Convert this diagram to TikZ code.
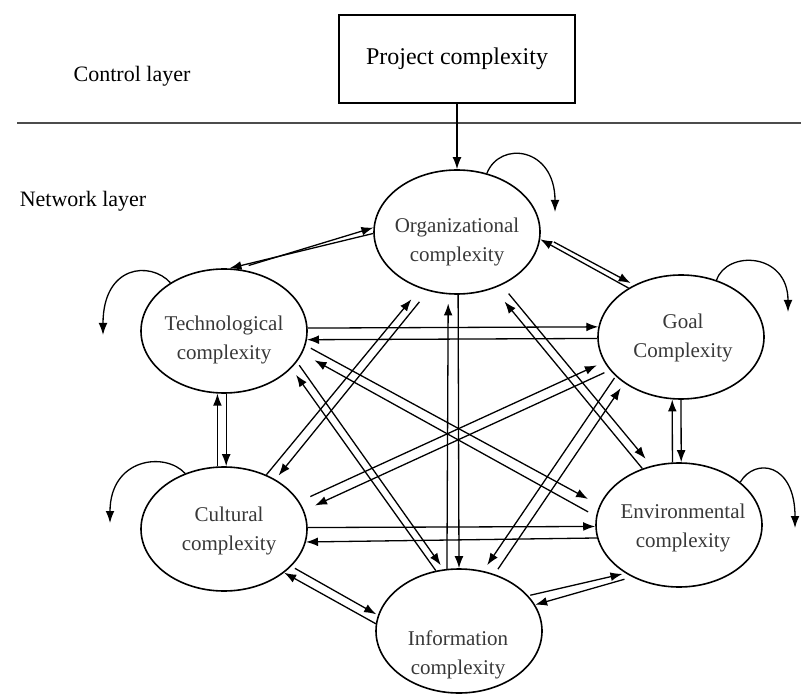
\documentclass[tikz,border=0pt]{standalone}
\usepackage{fontspec}
\setmainfont{Liberation Serif}
\usetikzlibrary{arrows.meta,shapes.geometric,calc}
\pgfmathsetmacro{\cplxwidth}{83}
\pgfmathsetmacro{\cplxheight}{62}

\tikzset{
  cplx/.style={ellipse, draw, line width=0.8pt, inner sep=0pt,
    minimum width=\cplxwidth pt, minimum height=\cplxheight pt},
  cplxtext/.style={align=center, inner sep=0pt, text=black!78,
    font=\fontsize{10.5}{14.5}\selectfont},
  projbox/.style={draw, line width=0.8pt, minimum width=118pt,
    minimum height=44pt, font=\fontsize{12}{14}\selectfont},
  layertext/.style={inner sep=0pt, font=\fontsize{11}{13}\selectfont},
  link/.style={-{Latex[length=6pt,width=4.4pt]}, line width=0.65pt},
}

\begin{document}
\begin{tikzpicture}[x=0.5pt, y=-0.5pt]
\useasboundingbox (0,0) rectangle (801,694);
% layers
\node[layertext] (ctrl_label) at (132,76) {Control layer};
\node[layertext] (net_label) at (83,201) {Network layer};
\draw[line width=0.7pt, black!70] (17,123) -- (801,123);
% control layer
\node[projbox] (proj) at (457,59) {Project complexity};
% network layer: complexity types
\node[cplx] (org)  at (457,232) {};
\node[cplx] (tech) at (224,331) {};
\node[cplx] (goal) at (681,337) {};
\node[cplx] (cult) at (224,529) {};
\node[cplx] (env)  at (679,525) {};
\node[cplx] (info) at (459,631) {};
\node[cplxtext] (org_txt)  at (457,242) {Organizational\\complexity};
\node[cplxtext] (tech_txt) at (224,340) {Technological\\complexity};
\node[cplxtext] (goal_txt) at (683,338) {Goal\\Complexity};
\node[cplxtext] (cult_txt) at (229,531) {Cultural\\complexity};
\node[cplxtext] (env_txt)  at (683,528) {Environmental\\complexity};
\node[cplxtext] (info_txt) at (458,655) {Information\\complexity};
% top-down link
\draw[link] (proj) -- (org);
% self influence
\coordinate (org_end)  at ($(org)+(98,-20)$);
\coordinate (tech_end) at ($(tech)+(-121,4)$);
\coordinate (goal_end) at ($(goal)+(107,-25)$);
\coordinate (cult_end) at ($(cult)+(-114,-6)$);
\coordinate (env_end)  at ($(env)+(116,3)$);
\draw[link] (org.63) .. controls +(13,-33) and +(0,-65) .. (org_end);
\draw[link] (tech.138) .. controls +(-20,-22) and +(0,-70) .. (tech_end);
\draw[link] (goal.58) .. controls +(10,-30) and +(0,-60) .. (goal_end);
\draw[link] (cult.125) .. controls +(-20,-22) and +(0,-65) .. (cult_end);
\draw[link] (env.35) .. controls +(15,-25) and +(0,-65) .. (env_end);
% organizational <-> others
\draw[link, shorten <=6pt] (tech.78) -- (org.177);
\draw[link] (org.181) -- (tech.85);
\draw[link] (goal.137) -- (org.355);
\draw[link, shorten <=7.5pt, shorten >=2pt] (org.358) -- (goal.132);
\draw[link, shorten >=4.5pt] (info.101) -- (org.262);
\draw[link] (org.271) -- (info.90);
\draw[link, shorten >=7pt] (cult.52) -- (org.237);
\draw[link, shorten <=7pt, shorten >=2.5pt] (org.244) -- (cult.44);
\draw[link, shorten >=8.5pt] (env.123) -- (org.303);
\draw[link, shorten <=5.5pt, shorten >=4.5pt] (org.310) -- (env.115);
% technological <-> others
\draw[link] (tech.2) -- (goal.173);
\draw[link] (goal.181) -- (tech.354);
\draw[link] (cult.96) -- (tech.264);
\draw[link] (tech.272) -- (cult.88);
\draw[link, shorten <=3pt, shorten >=6.5pt] (tech.350) -- (env.166);
\draw[link, shorten <=4.5pt, shorten >=7pt] (env.174) -- (tech.344);
\draw[link, shorten >=4pt] (info.111) -- (tech.331);
\draw[link, shorten <=2pt, shorten >=2.5pt] (tech.337) -- (info.104);
% goal <-> others
\draw[link] (env.96) -- (goal.262);
\draw[link] (goal.270) -- (env.88);
\draw[link, shorten <=6pt, shorten >=4pt] (cult.20) -- (goal.198);
\draw[link, shorten <=3pt, shorten >=6pt] (goal.205) -- (cult.13);
\draw[link, shorten <=3pt, shorten >=3pt] (info.58) -- (goal.219);
\draw[link, shorten <=1pt, shorten >=3.5pt] (goal.211) -- (info.68);
% cultural, environmental, information
\draw[link] (cult.1) -- (env.181);
\draw[link] (env.189) -- (cult.351);
\draw[link, shorten <=2pt, shorten >=1pt] (cult.331) -- (info.169);
\draw[link] (info.175) -- (cult.324);
\draw[link, shorten <=1pt, shorten >=1.5pt] (info.27) -- (env.222);
\draw[link, shorten <=4pt] (env.228) -- (info.19);
\end{tikzpicture}
\end{document}
